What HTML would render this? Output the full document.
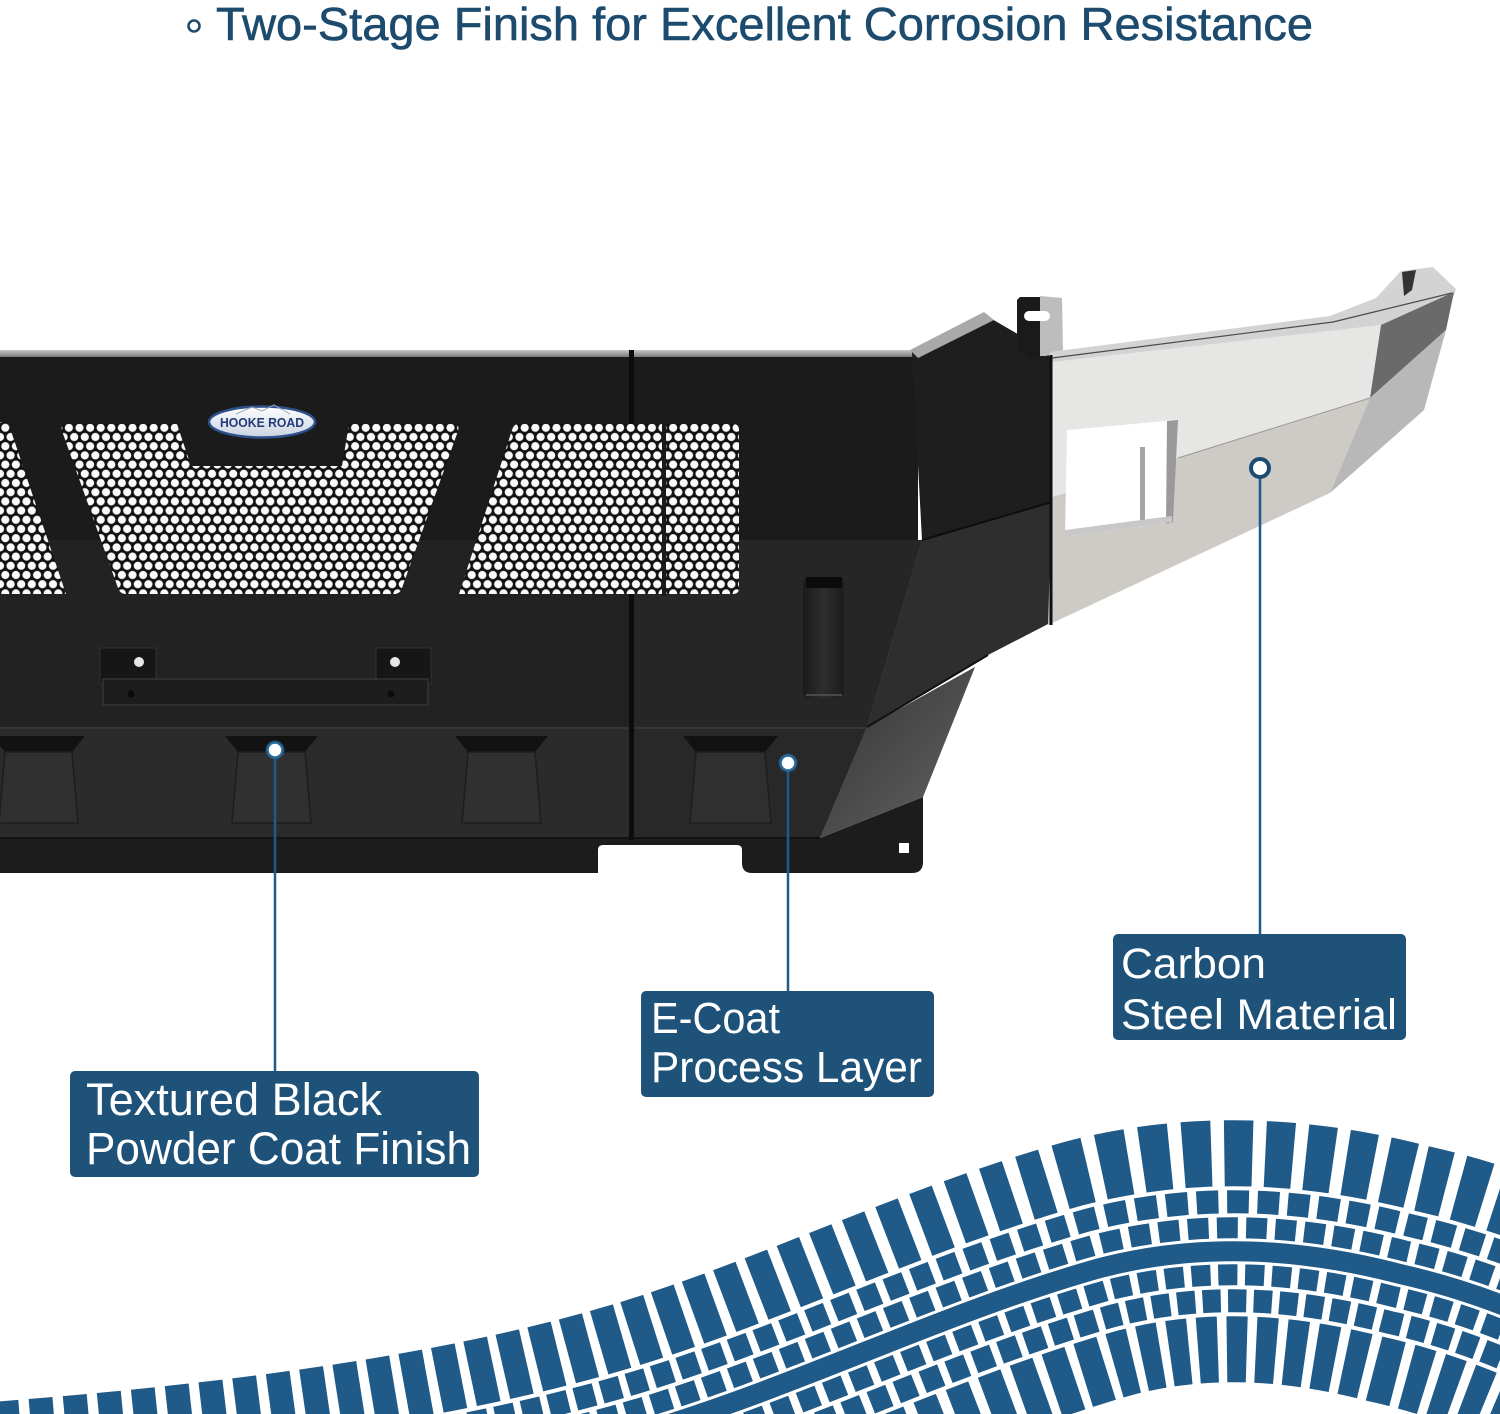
<!DOCTYPE html>
<html>
<head>
<meta charset="utf-8">
<style>
  html,body{margin:0;padding:0;background:#fff;width:1500px;height:1414px;overflow:hidden;}
  svg{display:block;}
  text{font-family:"Liberation Sans", sans-serif;}
</style>
</head>
<body>
<svg width="1500" height="1414" viewBox="0 0 1500 1414" xmlns="http://www.w3.org/2000/svg">
  <defs>
    <pattern id="hex" width="10.6" height="18.4" patternUnits="userSpaceOnUse">
      <rect width="10.6" height="18.4" fill="#121212"/>
      <circle cx="5.3" cy="4.6" r="4.1" fill="#fafafa"/>
      <circle cx="0" cy="13.8" r="4.1" fill="#fafafa"/>
      <circle cx="10.6" cy="13.8" r="4.1" fill="#fafafa"/>
    </pattern>
    <linearGradient id="rim" x1="0" y1="0" x2="0" y2="1">
      <stop offset="0" stop-color="#c8c8c8"/>
      <stop offset="1" stop-color="#7a7a7a"/>
    </linearGradient>
    <linearGradient id="plate" x1="0" y1="0" x2="1" y2="1">
      <stop offset="0" stop-color="#333"/>
      <stop offset="1" stop-color="#646464"/>
    </linearGradient>
    <linearGradient id="logo" x1="0" y1="0" x2="0" y2="1">
      <stop offset="0" stop-color="#ffffff"/>
      <stop offset="1" stop-color="#c9d3e0"/>
    </linearGradient>
    <linearGradient id="handle" x1="0" y1="0" x2="1" y2="0">
      <stop offset="0" stop-color="#1a1a1a"/>
      <stop offset="0.5" stop-color="#2e2e2e"/>
      <stop offset="1" stop-color="#1c1c1c"/>
    </linearGradient>
    <path id="track" d="M -100 1540 C 200 1520, 450 1490, 650 1430 C 800 1385, 950 1310, 1100 1268 C 1200 1242, 1300 1248, 1400 1274 C 1480 1292, 1550 1322, 1620 1360"/>
  </defs>

  <!-- Title -->
  <circle cx="194" cy="26" r="5.5" fill="none" stroke="#1d4b6e" stroke-width="2.6"/>
  <text x="216" y="40" font-size="46" textLength="1097" lengthAdjust="spacingAndGlyphs" fill="#1d4b6e" stroke="#1d4b6e" stroke-width="0.6">Two-Stage Finish for Excellent Corrosion Resistance</text>

  <!-- Tire track -->
  <g fill="none">
    <use href="#track" stroke="#1f5a88" stroke-width="262" stroke-dasharray="24 11"/>
    <use href="#track" stroke="#ffffff" stroke-width="130"/>
    <use href="#track" stroke="#1f5a88" stroke-width="122" stroke-dasharray="20 8" stroke-dashoffset="5"/>
    <use href="#track" stroke="#ffffff" stroke-width="76"/>
    <use href="#track" stroke="#1f5a88" stroke-width="68" stroke-dasharray="20 8" stroke-dashoffset="15"/>
    <use href="#track" stroke="#ffffff" stroke-width="26"/>
    <use href="#track" stroke="#1f5a88" stroke-width="20"/>
  </g>

  <!-- ===== Bumper black body ===== -->
  <rect x="0" y="352" width="918" height="190" fill="#1b1b1b"/>
  <polygon points="0,540 922,540 867,727 0,727" fill="#222"/>
  <polygon points="632,540 922,540 867,727 632,727" fill="#262626"/>
  <polygon points="0,727 867,727 820,838 0,838" fill="#2b2b2b"/>
  <polygon points="632,727 867,727 820,838 632,838" fill="#282828"/>
  <path d="M0,838 H820 L923,797 V862 Q923,873 912,873 H752 Q742,873 742,863 V850 Q742,845 737,845 H603 Q598,845 598,850 V873 H0 Z" fill="#1c1c1c"/>
  <rect x="899" y="843" width="10" height="10" fill="#fff"/>
  <line x1="0" y1="728" x2="867" y2="728" stroke="#3a3a3a" stroke-width="1.5"/>
  <line x1="0" y1="838" x2="820" y2="838" stroke="#121212" stroke-width="2"/>
  <!-- top rim -->
  <rect x="0" y="350" width="918" height="7" fill="url(#rim)"/>
  <!-- seam -->
  <rect x="629" y="350" width="5" height="490" fill="#0c0c0c"/>

  <!-- mesh panels -->
  <polygon points="0,422 8,422 66,594 0,594" fill="url(#hex)"/>
  <path d="M68,424 H177 L191,466 H342 L349,424 H453 Q460,424 458,431 L402,588 Q400,594 394,594 H126 Q120,594 118,588 L62,431 Q60,424 68,424 Z" fill="url(#hex)"/>
  <path d="M518,424 H733 Q739,424 739,430 V588 Q739,594 733,594 H459 L512,430 Q514,424 518,424 Z" fill="url(#hex)"/>
  <rect x="662" y="422" width="4" height="174" fill="#1a1a1a"/>

  <!-- logo -->
  <ellipse cx="262" cy="422" rx="53" ry="15.5" fill="url(#logo)" stroke="#2d4f8a" stroke-width="2.5"/>
  <path d="M236,414 L252,407 L262,411 L274,405 L290,414" fill="none" stroke="#9aa8b8" stroke-width="1"/>
  <text x="220" y="427" font-size="13" font-weight="bold" fill="#24397a" textLength="84" lengthAdjust="spacingAndGlyphs">HOOKE ROAD</text>

  <!-- winch plate -->
  <rect x="100" y="648" width="56" height="36" fill="#161616" stroke="#333" stroke-width="1"/>
  <rect x="376" y="648" width="55" height="36" fill="#161616" stroke="#333" stroke-width="1"/>
  <circle cx="139" cy="662" r="5" fill="#e8e8e8"/>
  <circle cx="395" cy="662" r="5" fill="#e8e8e8"/>
  <rect x="103" y="679" width="325" height="26" fill="#1d1d1d" stroke="#3a3a3a" stroke-width="1.2"/>
  <circle cx="131" cy="694" r="3.5" fill="#0b0b0b"/>
  <circle cx="391" cy="694" r="3.5" fill="#0b0b0b"/>

  <!-- skid recesses -->
  <g>
    <polygon points="-8,736 85,736 72,752 5,752" fill="#121212"/>
    <polygon points="5,752 72,752 78,823 -1,823" fill="#303030" stroke="#1d1d1d" stroke-width="1.5"/>
    <polygon points="225,736 318,736 305,752 238,752" fill="#121212"/>
    <polygon points="238,752 305,752 311,823 232,823" fill="#303030" stroke="#1d1d1d" stroke-width="1.5"/>
    <polygon points="455,736 548,736 535,752 468,752" fill="#121212"/>
    <polygon points="468,752 535,752 541,823 462,823" fill="#303030" stroke="#1d1d1d" stroke-width="1.5"/>
    <polygon points="683,736 778,736 765,752 696,752" fill="#121212"/>
    <polygon points="696,752 765,752 771,823 690,823" fill="#2f2f2f" stroke="#1d1d1d" stroke-width="1.5"/>
  </g>

  <!-- handle / hook -->
  <rect x="803" y="578" width="41" height="120" rx="5" fill="url(#handle)"/>
  <rect x="806" y="577" width="36" height="11" fill="#0b0b0b"/>
  <line x1="806" y1="695" x2="842" y2="695" stroke="#555" stroke-width="1.5"/>

  <!-- end cap -->
  <polygon points="912,352 985,315 1045,350 1052,360 1052,502 922,540" fill="#1e1e1e"/>
  <polygon points="910,350 984,312 994,320 918,358" fill="#a9a9a9"/>
  <polygon points="922,540 1052,502 1052,622 988,655 867,727" fill="#2e2e2e"/>
  <line x1="922" y1="540" x2="1052" y2="502" stroke="#0e0e0e" stroke-width="2"/>
  <polygon points="867,727 975,667 923,797 820,838" fill="url(#plate)"/>
  <line x1="867" y1="727" x2="988" y2="655" stroke="#111" stroke-width="2"/>

  <!-- bracket -->
  <polygon points="1017,300 1020,297 1040,297 1040,358 1030,360 1017,350" fill="#1a1a1a"/>
  <polygon points="1040,296 1062,298 1063,350 1046,356 1040,356" fill="#bdbdbd"/>
  <rect x="1024" y="311" width="26" height="10" rx="5" fill="#fff"/>

  <!-- silver section -->
  <polygon points="1050,352 1330,316 1376,298 1401,271 1433,267 1456,289 1453,298 1381,326 1052,364" fill="#d3d3d3"/>
  <line x1="1052" y1="358" x2="1333" y2="322" stroke="#4a4a4a" stroke-width="1.2"/>
  <line x1="1333" y1="322" x2="1452" y2="293" stroke="#4a4a4a" stroke-width="1.2"/>
  <polygon points="1052,362 1381,325 1370,398 1178,458 1052,497" fill="#e6e6e4"/>
  <polygon points="1052,497 1178,458 1370,398 1330,493 1048,625" fill="#cecbc7"/>
  <polygon points="1381,325 1454,292 1446,330 1370,398" fill="#6a6a6a"/>
  <polygon points="1370,398 1446,330 1424,410 1330,493" fill="#b8b8b8"/>
  <polygon points="1402,272 1416,270 1412,290 1404,296" fill="#333"/>
  <line x1="1370" y1="398" x2="1178" y2="458" stroke="#9a9a9a" stroke-width="1"/>
  <!-- hole -->
  <polygon points="1067,430 1177,420 1172,522 1065,537" fill="#fff"/>
  <polygon points="1167,421 1178,420 1173,522 1166,524" fill="#9a9a9a"/>
  <rect x="1140" y="447" width="5" height="76" fill="#a5a5a5"/>
  <polygon points="1065,530 1172,516 1172,522 1065,537" fill="#c8c8c8"/>
  <line x1="1051" y1="355" x2="1051" y2="625" stroke="#0f0f0f" stroke-width="3"/>

  <!-- leader lines -->
  <g stroke="#1f5a88" stroke-width="2.5">
    <line x1="275" y1="752" x2="275" y2="1072"/>
    <line x1="788" y1="765" x2="788" y2="992"/>
    <line x1="1260" y1="472" x2="1260" y2="935"/>
  </g>
  <!-- dots -->
  <circle cx="275" cy="750" r="10" fill="#1f5a88" opacity="0.35"/>
  <circle cx="275" cy="750" r="7.5" fill="#fff" stroke="#2a6a9a" stroke-width="2.5"/>
  <circle cx="788" cy="763" r="10" fill="#1f5a88" opacity="0.35"/>
  <circle cx="788" cy="763" r="7.5" fill="#fff" stroke="#2a6a9a" stroke-width="2.5"/>
  <circle cx="1260" cy="468" r="9" fill="#fff" stroke="#1b4d72" stroke-width="4"/>

  <!-- labels -->
  <rect x="70" y="1071" width="409" height="106" rx="5" fill="#1e5279"/>
  <text x="86" y="1115" font-size="45" fill="#fff" textLength="296" lengthAdjust="spacingAndGlyphs">Textured Black</text>
  <text x="86" y="1164" font-size="45" fill="#fff" textLength="385" lengthAdjust="spacingAndGlyphs">Powder Coat Finish</text>

  <rect x="641" y="991" width="293" height="106" rx="5" fill="#1e5279"/>
  <text x="651" y="1033" font-size="44" fill="#fff" textLength="129" lengthAdjust="spacingAndGlyphs">E-Coat</text>
  <text x="651" y="1082" font-size="44" fill="#fff" textLength="271" lengthAdjust="spacingAndGlyphs">Process Layer</text>

  <rect x="1113" y="934" width="293" height="106" rx="5" fill="#1e5279"/>
  <text x="1121" y="978" font-size="43" fill="#fff" textLength="145" lengthAdjust="spacingAndGlyphs">Carbon</text>
  <text x="1121" y="1029" font-size="43" fill="#fff" textLength="276" lengthAdjust="spacingAndGlyphs">Steel Material</text>
</svg>
</body>
</html>
